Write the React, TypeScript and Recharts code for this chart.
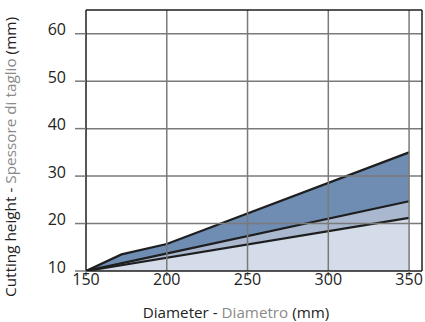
import React from 'react';
import { ComposedChart, Area, XAxis, YAxis, ReferenceLine } from 'recharts';

const diameters = [150, 172, 200, 350];
const upperHeight = [10, 13.5, 15.7, 35];
const middleHeight = [10, null, null, 24.7];
const lowerHeight = [10, null, null, 21.2];
const xTicks = [150, 200, 250, 300, 350];
const yTicks = [10, 20, 30, 40, 50, 60];
const gridX = [200, 250, 300, 350];
const gridY = [20, 30, 40, 50, 60];

const data = diameters.map((d, i) => ({
  d,
  upper: upperHeight[i],
  middle: middleHeight[i],
  lower: lowerHeight[i],
}));

const FONT = '"Open Sans", sans-serif';
const DARK = '#1e1e1e';
const GRID = '#7a7a7a';
const GREY_TEXT = '#8a8a8a';

const YTick = (props: any) => {
  const { x, y, payload } = props;
  return (
    <text x={x} y={y - 4} dy="0.355em" textAnchor="end" fontFamily={FONT} fontSize={16} fill="#222">
      {payload.value}
    </text>
  );
};

const XTick = (props: any) => {
  const { x, y, payload } = props;
  return (
    <text x={x} y={y - 4} dy="0.71em" textAnchor="middle" fontFamily={FONT} fontSize={16} fill="#222">
      {payload.value}
    </text>
  );
};

const YLabel = () => (
  <text
    x={16}
    y={157}
    transform="rotate(-90, 16, 157)"
    textAnchor="middle"
    fontFamily={FONT}
    fontSize={15.3}
  >
    <tspan fill="#222">Cutting height - </tspan>
    <tspan fill={GREY_TEXT}>Spessore di taglio</tspan>
    <tspan fill="#222"> (mm)</tspan>
  </text>
);

const XLabel = () => (
  <text x={236} y={318} textAnchor="middle" fontFamily={FONT} fontSize={15.2}>
    <tspan fill="#222">Diameter - </tspan>
    <tspan fill={GREY_TEXT}>Diametro</tspan>
    <tspan fill="#222"> (mm)</tspan>
  </text>
);

export default function App() {
  return (
    <div style={{ position: 'absolute', left: 0, top: 0, width: 425, height: 322, background: '#fff' }}>
      <ComposedChart
        width={425}
        height={322}
        data={data}
        margin={{ top: 10, right: 3, left: 0, bottom: 0 }}
      >
        <XAxis
          dataKey="d"
          type="number"
          domain={[150, 358]}
          ticks={xTicks}
          height={51}
          tickSize={5}
          tickMargin={2}
          tick={<XTick />}
          axisLine={{ stroke: DARK, strokeWidth: 1.5 }}
          tickLine={{ stroke: GRID, strokeWidth: 1.5 }}
          label={<XLabel />}
          allowDataOverflow
        />
        <YAxis
          type="number"
          domain={[10, 65]}
          ticks={yTicks}
          width={86}
          tickSize={11}
          tickMargin={9}
          tick={<YTick />}
          axisLine={{ stroke: DARK, strokeWidth: 1.5 }}
          tickLine={{ stroke: GRID, strokeWidth: 1.5 }}
          label={<YLabel />}
          allowDataOverflow
        />
        <Area
          dataKey="upper"
          type="linear"
          baseValue={10}
          stroke={DARK}
          strokeWidth={2.2}
          fill="#6f8cb3"
          fillOpacity={1}
          isAnimationActive={false}
          dot={false}
          activeDot={false}
        />
        <Area
          dataKey="middle"
          type="linear"
          baseValue={10}
          connectNulls
          stroke={DARK}
          strokeWidth={2.2}
          fill="#a9b8cf"
          fillOpacity={1}
          isAnimationActive={false}
          dot={false}
          activeDot={false}
        />
        <Area
          dataKey="lower"
          type="linear"
          baseValue={10}
          connectNulls
          stroke={DARK}
          strokeWidth={2.2}
          fill="#d3dce8"
          fillOpacity={1}
          isAnimationActive={false}
          dot={false}
          activeDot={false}
        />
        {gridX.map((v) => (
          <ReferenceLine key={'gx' + v} x={v} stroke={GRID} strokeWidth={1.5} />
        ))}
        {gridY.map((v) => (
          <ReferenceLine key={'gy' + v} y={v} stroke={GRID} strokeWidth={1.5} />
        ))}
        <ReferenceLine x={358} stroke={DARK} strokeWidth={1.5} />
        <ReferenceLine y={65} stroke={DARK} strokeWidth={1.5} />
      </ComposedChart>
    </div>
  );
}
